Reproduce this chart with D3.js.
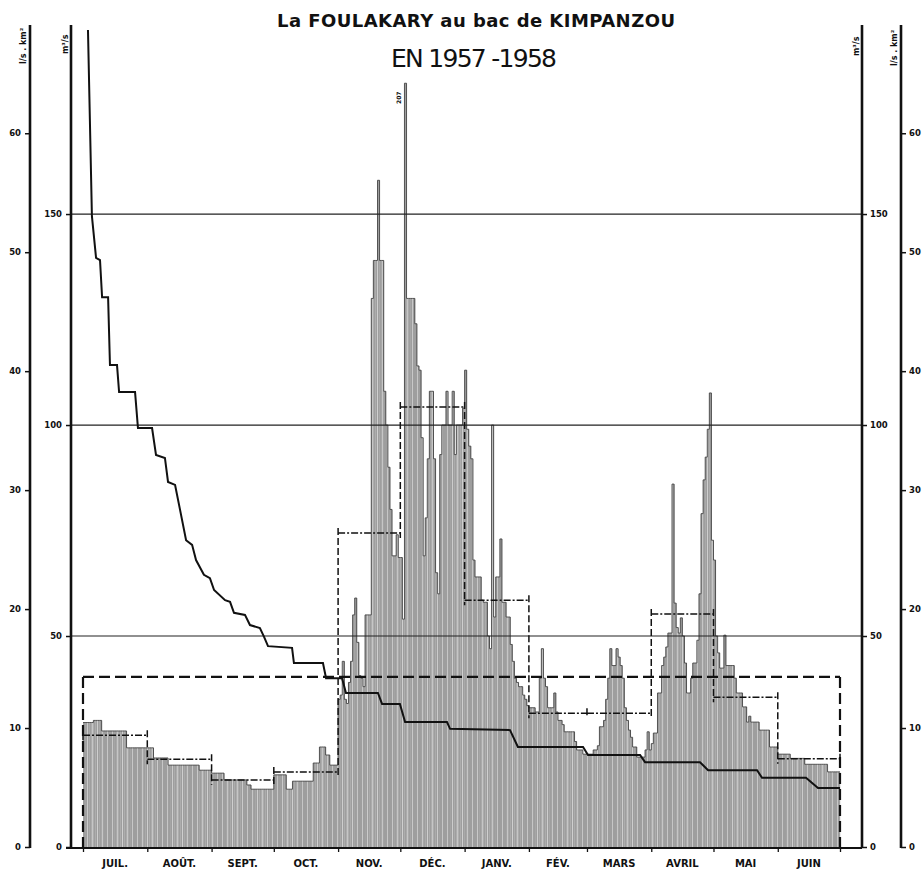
<!DOCTYPE html>
<html>
<head>
<meta charset="utf-8">
<script src="https://d3js.org/d3.v7.min.js"></script>
<style>
  body { margin: 0; background: #fff; }
  svg text { font-family: "DejaVu Sans", sans-serif; fill: #111; }
  .tick text { font-size: 8.5px; font-weight: bold; font-family: "DejaVu Sans", sans-serif; }
  .month { font-family: "Liberation Sans Narrow", "DejaVu Sans", sans-serif; font-size: 10px; font-weight: bold; }
</style>
</head>
<body>
<svg id="chart" width="924" height="870"></svg>
<script>
// titles
var title1 = "La FOULAKARY au bac de KIMPANZOU";
var title2 = "EN 1957 -1958";

// months of the hydrological year (jul -> jun)
var months = ["JUIL.", "AOÛT.", "SEPT.", "OCT.", "NOV.", "DÉC.", "JANV.", "FÉV.", "MARS", "AVRIL", "MAI", "JUIN"];
var monthDays = [31, 31, 30, 31, 30, 31, 31, 28, 31, 30, 31, 30];

// daily flows in m3/s
var jul = [29.5, 29.5, 29.5, 29.5, 29.5, 30, 30, 30, 30, 27.5, 27.5, 27.5, 27.5, 27.5, 27.5, 27.5, 27.5, 27.5, 27.5, 27.5, 27.5, 23.5, 23.5, 23.5, 23.5, 23.5, 23.5, 23.5, 23.5, 23.5, 23.5];
var aug = [23.5, 23.5, 23.5, 21.1, 21.1, 21.1, 21.1, 21.1, 21.1, 21.1, 19.4, 19.4, 19.4, 19.4, 19.4, 19.4, 19.4, 19.4, 19.4, 19.4, 19.4, 19.4, 19.4, 19.4, 19.4, 18.2, 18.2, 18.2, 18.2, 18.2, 18.2];
var sep = [17.5, 17.5, 17.5, 17.5, 17.5, 17.5, 15.9, 15.9, 15.9, 15.9, 15.9, 15.9, 15.9, 15.9, 15.9, 15.9, 15.9, 14.7, 14.7, 13.7, 13.7, 13.7, 13.7, 13.7, 13.7, 13.7, 13.7, 13.7, 13.7, 13.7];
var oct = [17.1, 17.1, 17.1, 17.1, 17.1, 17.1, 13.7, 13.7, 13.7, 15.6, 15.6, 15.6, 15.6, 15.6, 15.6, 15.6, 15.6, 15.6, 15.6, 19.9, 19.9, 19.9, 23.7, 23.7, 23.7, 21.8, 21.8, 19.4, 19.4, 19.4, 19.4];
var nov = [35, 36, 44, 35, 34, 39, 44, 55, 59, 48.5, 40.6, 40, 38, 55, 55, 55, 130, 139, 139, 158, 139, 139, 108, 100, 90, 80, 69, 69, 74, 68.6];
var dec = [68.6, 54, 181, 130, 130, 130, 130, 124, 114, 113, 97, 69, 78, 92, 108, 108, 92, 65, 60, 93, 100, 100, 108, 100, 100, 108, 93, 100, 100, 100, 104];
var jan = [113, 99, 95, 92, 68, 64, 64, 64, 58.5, 58, 58, 50, 47, 100, 54.5, 64, 64, 73, 58, 58, 54.5, 54.5, 48, 44, 40, 39, 38, 38, 36, 35, 33.5];
var feb = [33, 33, 33, 32, 32, 40, 47, 40, 38, 33, 33, 33, 36.5, 32, 30, 30, 29, 27.3, 27.3, 27.3, 27.3, 27.3, 25, 23, 23, 23, 22, 22];
var mar = [22, 22, 22, 23, 23, 24, 28.5, 28.5, 30, 35, 40, 47, 43, 43, 47, 45, 43, 40, 33, 30, 27.7, 26, 23.7, 23.7, 21.3, 21.3, 21.3, 21.3, 23, 27.3, 23];
var apr = [24.5, 27, 27, 36.5, 36.5, 43, 45, 47.4, 50.7, 50.7, 86, 57.8, 52, 50.7, 54.3, 50, 43.6, 36.5, 36.5, 40, 43.6, 43.6, 49, 60, 79, 87, 92.4, 99, 107.6, 72.7];
var may = [68, 50, 46, 42.4, 42.4, 50.2, 43, 43, 43, 43, 40, 36.5, 36.5, 36.5, 33.2, 33.2, 29.6, 31, 29.6, 29.6, 29.6, 29.6, 27.7, 27.7, 27.7, 27.7, 27.7, 23.7, 23.7, 23.7, 23.7];
var jun = [22, 22, 22, 22, 22, 22, 21, 21, 21, 21, 21, 21, 21, 19.6, 19.6, 19.6, 19.6, 19.6, 19.6, 19.6, 19.6, 19.6, 19.6, 19.6, 17.8, 17.8, 17.8, 17.8, 17.8, 17.8];

// monthly and annual means (m3/s)
var monthMeans = [26.5, 20.8, 15.9, 17.8, 74.4, 104.3, 58.5, 31.7, 31.7, 55.2, 35.5, 20.9];
var annualMean = 40.3;

// flow duration curve (days exceeded, m3/s)
var durDays = [2.4, 4.3, 6.3, 8.2, 9.2, 12.1, 13.0, 16.4, 17.4, 25.1, 26.5, 33.3, 35.2, 39.5, 41.0, 44.4, 46.8, 49.7, 52.6, 54.5, 58.3, 61.2, 63.2, 68.5, 70.9, 72.8, 78.1, 80.5, 85.3, 87.3, 89.2, 100.8, 101.7, 115.7, 117.2, 124.9, 126.8, 142.2, 144.2, 152.8, 155.3, 175.5, 177.0, 205.9, 209.7, 241.1, 243.5, 268.6, 271.0, 297.5, 301.4, 325.0, 327.4, 348.6, 354.4, 365];
var durQ = [193.6, 149.5, 139.6, 139.1, 130.3, 130.3, 114.2, 114.2, 107.8, 107.8, 99.3, 99.3, 92.9, 92.2, 86.5, 85.8, 79.9, 72.7, 71.6, 68.0, 64.5, 63.7, 60.9, 58.5, 58.1, 55.5, 55.0, 52.6, 51.9, 49.8, 47.6, 47.2, 43.6, 43.6, 40.0, 40.0, 36.5, 36.5, 33.9, 33.9, 29.6, 29.6, 28.0, 27.7, 23.7, 23.7, 21.8, 21.8, 20.1, 20.1, 18.2, 18.2, 16.4, 16.4, 14.0, 14.0];

// axes ticks
var qTicks = [0, 50, 100, 150];
var spTicks = [0, 10, 20, 30, 40, 50, 60];
var gridQ = [50, 100, 150];
var peakLabel = "207";

var flows = [].concat(jul, aug, sep, oct, nov, dec, jan, feb, mar, apr, may, jun);

// month boundaries in days
var bounds = [0];
monthDays.forEach(function(n, i) { bounds.push(bounds[i] + n); });

var svg = d3.select("#chart");

var x = d3.scaleLinear().domain([0, 365]).range([83, 840]);
var yQ = d3.scaleLinear().domain([0, 194.8]).range([847, 25]);
var ySp = d3.scaleLinear().domain([0, 69.1]).range([847, 25]);

var xInL = 71, xOutL = 30, xInR = 862, xOutR = 901;

// stipple like fill of the bars
var defs = svg.append("defs");
var pat = defs.append("pattern")
  .attr("id", "stip")
  .attr("width", 5).attr("height", 4)
  .attr("patternUnits", "userSpaceOnUse");
pat.append("rect").attr("width", 5).attr("height", 4).attr("fill", "#9e9e9e");
pat.append("rect").attr("x", 2).attr("width", 1).attr("height", 4).attr("fill", "#c6c6c6");

// daily bars
svg.append("g")
  .selectAll("rect")
  .data(flows)
  .enter().append("rect")
  .attr("x", function(d, i) { return x(i); })
  .attr("width", function(d, i) { return x(i + 1) - x(i) + 0.2; })
  .attr("y", function(d) { return yQ(d); })
  .attr("height", function(d) { return yQ(0) - yQ(d); })
  .attr("fill", "url(#stip)");

// outline on top of the bars
var stepPts = flows.map(function(d, i) { return [i, d]; });
stepPts.push([365, flows[364]]);
svg.append("path")
  .datum(stepPts)
  .attr("fill", "none")
  .attr("stroke", "#444")
  .attr("stroke-width", 0.9)
  .attr("d", d3.line().curve(d3.curveStepAfter)
    .x(function(d) { return x(d[0]); })
    .y(function(d) { return yQ(d[1]); }));

// grid lines 50 / 100 / 150
svg.append("g")
  .selectAll("line")
  .data(gridQ)
  .enter().append("line")
  .attr("x1", xInL).attr("x2", xInR)
  .attr("y1", function(d) { return yQ(d); })
  .attr("y2", function(d) { return yQ(d); })
  .attr("stroke", "#222")
  .attr("stroke-width", 1.2);

// annual mean
var gMean = svg.append("g")
  .attr("fill", "none")
  .attr("stroke", "#111")
  .attr("stroke-width", 2.2)
  .attr("stroke-dasharray", "11,5");
gMean.append("line")
  .attr("x1", x(0)).attr("x2", x(365))
  .attr("y1", yQ(annualMean)).attr("y2", yQ(annualMean));
[0, 365].forEach(function(d) {
  gMean.append("line")
    .attr("x1", x(d)).attr("x2", x(d))
    .attr("y1", yQ(annualMean)).attr("y2", yQ(0));
});

// monthly means
var gMonth = svg.append("g")
  .attr("fill", "none")
  .attr("stroke", "#111")
  .attr("stroke-width", 1.5);
monthMeans.forEach(function(m, i) {
  gMonth.append("line")
    .attr("x1", x(bounds[i])).attr("x2", x(bounds[i + 1]))
    .attr("y1", yQ(m)).attr("y2", yQ(m))
    .attr("stroke-dasharray", "7,2,2,2");
  if (i < monthMeans.length - 1) {
    var a = yQ(m), b = yQ(monthMeans[i + 1]);
    gMonth.append("line")
      .attr("x1", x(bounds[i + 1])).attr("x2", x(bounds[i + 1]))
      .attr("y1", Math.min(a, b) - 5).attr("y2", Math.max(a, b) + 5)
      .attr("stroke-dasharray", "7,3");
  }
});
// end ticks of the first and last month
[[0, monthMeans[0]], [365, monthMeans[11]]].forEach(function(p) {
  gMonth.append("line")
    .attr("x1", x(p[0])).attr("x2", x(p[0]))
    .attr("y1", yQ(p[1]) - 5).attr("y2", yQ(p[1]) + 5);
});

// flow duration curve
svg.append("path")
  .datum(durDays.map(function(d, i) { return [d, durQ[i]]; }))
  .attr("fill", "none")
  .attr("stroke", "#111")
  .attr("stroke-width", 2)
  .attr("d", d3.line()
    .x(function(d) { return x(d[0]); })
    .y(function(d) { return yQ(d[1]); }));

// peak value note
svg.append("text")
  .attr("transform", "translate(401,104) rotate(-90)")
  .style("font-size", "6px")
  .style("font-weight", "bold")
  .text(peakLabel);

// axes
function drawAxis(axis, xpos) {
  var g = svg.append("g")
    .attr("transform", "translate(" + xpos + ",0)")
    .call(axis);
  g.select(".domain").remove();
  g.selectAll(".tick line").attr("stroke", "#111").attr("stroke-width", 1.5);
  svg.append("line")
    .attr("x1", xpos).attr("x2", xpos)
    .attr("y1", 25).attr("y2", 848)
    .attr("stroke", "#111")
    .attr("stroke-width", 2.6);
  return g;
}

drawAxis(d3.axisLeft(ySp).tickValues(spTicks).tickSize(5).tickPadding(4), xOutL);
drawAxis(d3.axisLeft(yQ).tickValues(qTicks).tickSize(5).tickPadding(4), xInL);
drawAxis(d3.axisRight(yQ).tickValues(qTicks).tickSize(5).tickPadding(3), xInR);
drawAxis(d3.axisRight(ySp).tickValues(spTicks).tickSize(5).tickPadding(3), xOutR);

// x axis with month ticks
var gx = svg.append("g")
  .attr("transform", "translate(0,848)")
  .call(d3.axisBottom(x).tickValues(bounds).tickSize(4).tickFormat(""));
gx.select(".domain").remove();
gx.selectAll(".tick line").attr("stroke", "#111").attr("stroke-width", 1.3);
svg.append("line")
  .attr("x1", xInL - 5).attr("x2", xInR)
  .attr("y1", 848).attr("y2", 848)
  .attr("stroke", "#111")
  .attr("stroke-width", 2.2);

svg.append("g")
  .selectAll("text")
  .data(months)
  .enter().append("text")
  .attr("class", "month")
  .attr("x", function(d, i) { return x((bounds[i] + bounds[i + 1]) / 2); })
  .attr("y", 867)
  .attr("text-anchor", "middle")
  .text(function(d) { return d; });

// unit labels
function unitLabel(txt, xp, yp) {
  svg.append("text")
    .attr("transform", "translate(" + xp + "," + yp + ") rotate(-90)")
    .style("font-size", "8px")
    .style("font-weight", "bold")
    .text(txt);
}
unitLabel("l/s . km²", 26, 64);
unitLabel("m³/s", 68, 54);
unitLabel("m³/s", 859, 56);
unitLabel("l/s . km²", 897, 66);

// titles
svg.append("text")
  .attr("x", 277).attr("y", 27)
  .attr("textLength", 398)
  .attr("lengthAdjust", "spacing")
  .style("font-size", "18px")
  .style("font-weight", "bold")
  .text(title1);

svg.append("text")
  .attr("x", 391).attr("y", 67)
  .attr("textLength", 166)
  .attr("lengthAdjust", "spacing")
  .style("font-size", "25px")
  .text(title2);
</script>
</body>
</html>
